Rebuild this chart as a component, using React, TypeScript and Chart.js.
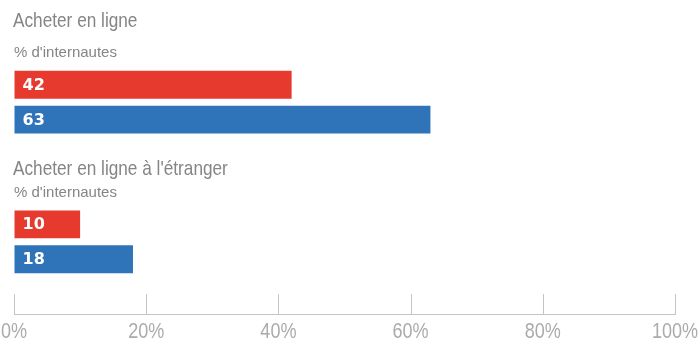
import React, { useEffect, useRef } from 'react';
import { Chart, registerables } from 'chart.js';

Chart.register(...registerables);

// ---- data ----
const groupTitles = ['Acheter en ligne', "Acheter en ligne à l'étranger"];
const groupSubtitle = "% d'internautes";
const redValues = [42, 10];
const blueValues = [63, 18];
const redSlots = [2, 6];
const blueSlots = [3, 7];
const xTickValues = [0, 20, 40, 60, 80, 100];

const RED = '#e63a2f';
const BLUE = '#2f74b9';
const SANS = '"Liberation Sans", Arial, sans-serif';
const NARROW_SCALE = 0.82;

function drawNarrow(ctx: any, text: string, x: number, y: number, align: string) {
  ctx.save();
  ctx.translate(x, y);
  ctx.scale(NARROW_SCALE, 1);
  ctx.textAlign = align;
  ctx.fillText(text, 0, 0);
  ctx.restore();
}

const upTicksPlugin = {
  id: 'upTicks',
  afterDraw(chart: any) {
    const { ctx, chartArea } = chart;
    const xs = chart.scales.x;
    ctx.save();
    ctx.strokeStyle = '#c4c4c4';
    ctx.lineWidth = 1;
    xs.ticks.forEach((t: any) => {
      const px = Math.round(xs.getPixelForValue(t.value)) + 0.5;
      ctx.beginPath();
      ctx.moveTo(px, chartArea.bottom - 20);
      ctx.lineTo(px, chartArea.bottom);
      ctx.stroke();
    });
    // tick labels (narrow)
    ctx.fillStyle = '#ababab';
    ctx.font = '22px ' + SANS;
    ctx.textBaseline = 'alphabetic';
    xs.ticks.forEach((t: any) => {
      const px = xs.getPixelForValue(t.value);
      drawNarrow(ctx, t.value + '%', px, chartArea.bottom + 24, 'center');
    });
    ctx.restore();
  },
};

const labelsPlugin = {
  id: 'valueLabels',
  afterDatasetsDraw(chart: any) {
    const { ctx } = chart;
    ctx.save();
    ctx.fillStyle = '#ffffff';
    ctx.font = 'bold 16px "DejaVu Sans", sans-serif';
    ctx.textBaseline = 'middle';
    ctx.textAlign = 'left';
    chart.data.datasets.forEach((ds: any, di: number) => {
      const meta = chart.getDatasetMeta(di);
      meta.data.forEach((bar: any, i: number) => {
        ctx.fillText(String(ds.data[i].x), bar.base + 8, bar.y + 1);
      });
    });
    ctx.restore();
  },
};

const titlesPlugin = {
  id: 'groupTitles',
  afterDraw(chart: any) {
    const { ctx, chartArea } = chart;
    const left = chartArea.left - 1;
    const titleBaselines = [27, 175];
    const subBaselines = [57, 197];
    ctx.save();
    ctx.textBaseline = 'alphabetic';
    groupTitles.forEach((t, i) => {
      ctx.fillStyle = '#858585';
      ctx.font = '21px ' + SANS;
      drawNarrow(ctx, t, left, titleBaselines[i], 'left');
      ctx.fillStyle = '#858585';
      ctx.font = '15px ' + SANS;
      ctx.textAlign = 'left';
      ctx.fillText(groupSubtitle, left + 1, subBaselines[i]);
    });
    ctx.restore();
  },
};

export default function App() {
  const ref = useRef<HTMLCanvasElement>(null);
  useEffect(() => {
    if (!ref.current) return;
    const chart = new Chart(ref.current, {
      type: 'bar',
      data: {
        datasets: [
          {
            label: 'red',
            data: redValues.map((v, i) => ({ x: v, y: redSlots[i] })),
            backgroundColor: RED,
            borderWidth: 0,
          },
          {
            label: 'blue',
            data: blueValues.map((v, i) => ({ x: v, y: blueSlots[i] })),
            backgroundColor: BLUE,
            borderWidth: 0,
          },
        ],
      },
      options: {
        animation: false,
        responsive: true,
        maintainAspectRatio: false,
        indexAxis: 'y',
        grouped: false,
        barPercentage: 0.8,
        categoryPercentage: 1,
        layout: { padding: { left: 14, right: 25, top: 0, bottom: 0 } },
        plugins: { legend: { display: false }, tooltip: { enabled: false } },
        scales: {
          y: {
            type: 'linear',
            display: false,
            reverse: true,
            offset: false,
            min: -0.43,
            max: 8.57,
            afterBuildTicks: (s: any) => {
              s.ticks = [...redSlots, ...blueSlots].sort((a, b) => a - b).map((v) => ({ value: v }));
            },
          },
          x: {
            type: 'linear',
            min: 0,
            max: 100,
            afterBuildTicks: (s: any) => {
              s.ticks = xTickValues.map((v) => ({ value: v }));
            },
            afterFit: (s: any) => {
              s.height = 31;
              s.paddingLeft = 0;
              s.paddingRight = 0;
            },
            grid: { drawOnChartArea: false, drawTicks: false },
            border: { color: '#c4c4c4', width: 1 },
            ticks: { display: false },
          },
        },
      } as any,
      plugins: [upTicksPlugin, labelsPlugin, titlesPlugin],
    });
    return () => chart.destroy();
  }, []);
  return (
    <div style={{ position: 'absolute', left: 0, top: 0, width: 700, height: 345, background: '#fff' }}>
      <canvas ref={ref} />
    </div>
  );
}
